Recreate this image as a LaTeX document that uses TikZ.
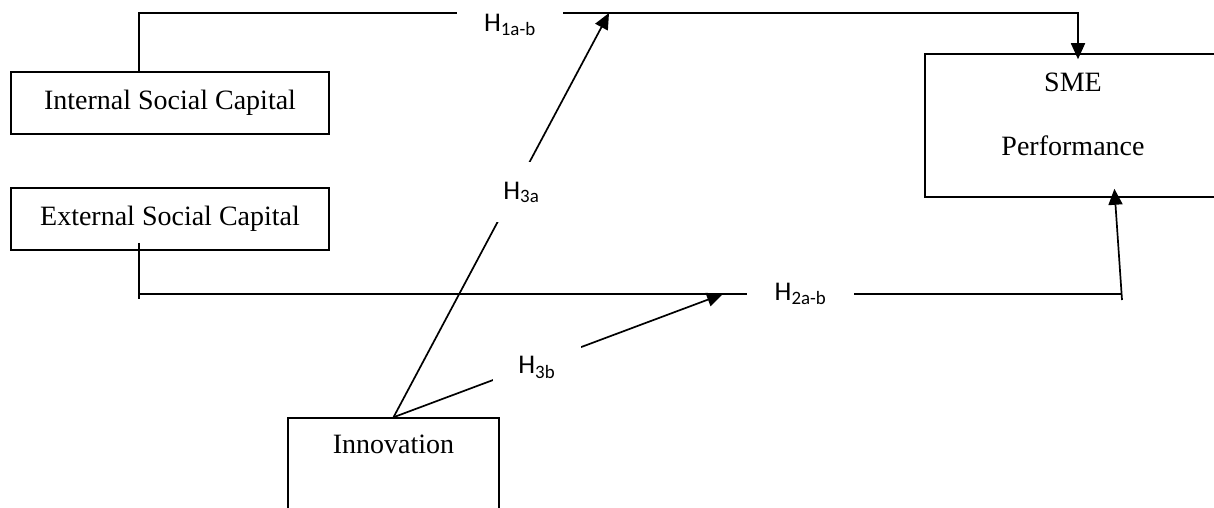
\documentclass[tikz,border=0pt]{standalone}
\usepackage{fontspec}
\setmainfont{Liberation Serif}
\newfontfamily\hypfont{Carlito}
\usetikzlibrary{arrows.meta}

\begin{document}
\begin{tikzpicture}[x=1pt, y=-1pt, line width=1.7pt, >={Triangle[length=16pt, width=14pt]},
  box/.style={draw, rectangle, inner sep=0pt, line width=1.5pt, font=\fontsize{28}{34}\selectfont},
  boxtext/.style={inner sep=0pt, font=\fontsize{28}{64}\selectfont},
  hyp/.style={fill=white, inner sep=0pt, font=\hypfont\fontsize{27}{32}\selectfont}]

  \useasboundingbox (0,0) rectangle (1214,508);
  \clip (0,0) rectangle (1214,508);

  % Define key coordinates (corners of the connectors)
  \coordinate (TL) at (139,13);     % top line, left end
  \coordinate (TR) at (1078,13);    % top line, right end
  \coordinate (BL) at (139,294);    % bottom line, left end
  \coordinate (BR) at (1122,294);   % bottom line, right end
  \coordinate (T3a) at (609,13);    % tip of H3a on the top line
  \coordinate (T3b) at (723,294);   % tip of H3b on the bottom line

  % Construct boxes
  \node[box, minimum width=318pt, minimum height=62pt] (isc) at (170,103) {Internal Social Capital};
  \node[box, minimum width=318pt, minimum height=62pt] (esc) at (170,219) {External Social Capital};
  \node[box, minimum width=296pt, minimum height=143pt] (sme) at (1073,125.5) {};
  \node[boxtext, align=center, anchor=north] (smetxt) at (1073,72) {SME\\Performance};
  \node[box, minimum width=211pt, minimum height=120pt] (inno) at (393.5,478) {};
  \node[boxtext, anchor=base] (innotxt) at (393.5,453) {Innovation};

  % --- H1a-b: internal social capital ---
  \draw[->, shorten >=-6pt] (isc.north -| TL) -- (TL)
    -- node[hyp, pos=0.395, yshift=-12pt, minimum width=106pt, minimum height=30pt] (h1) {H\textsubscript{1a-b}} (TR)
    -- (sme.north -| TR);

  % --- H2a-b: external social capital ---
  \draw ([yshift=8pt]esc.south -| BL) -- ([yshift=-5pt]BL);
  \draw (BL) -- node[hyp, pos=0.673, minimum width=107pt, minimum height=30pt] (h2) {H\textsubscript{2a-b}} (BR);
  \draw[->, shorten >=-9pt] ([yshift=-6pt]BR) -- ([xshift=42pt]sme.south);

  % --- H3a, H3b: innovation ---
  \draw[->] (inno.north) -- node[hyp, pos=0.556, xshift=8pt, minimum width=50pt, minimum height=60pt] (h3a) {H\textsubscript{3a}} (T3a);
  \draw[->] (inno.north) -- node[hyp, pos=0.435, yshift=-4pt, minimum width=88pt, minimum height=44pt] (h3b) {H\textsubscript{3b}} (T3b);
\end{tikzpicture}
\end{document}
